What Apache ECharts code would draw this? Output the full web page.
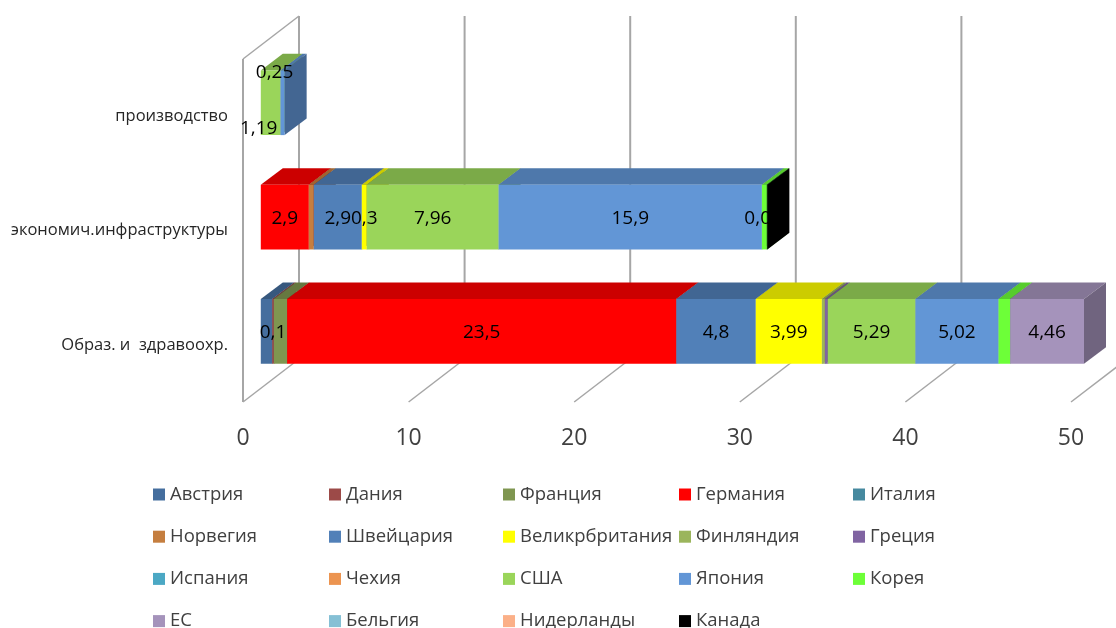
<!DOCTYPE html>
<html>
<head>
<meta charset="utf-8">
<style>html,body{margin:0;background:#fff}#chart{width:1116px;height:628px}</style>
<script src="https://cdn.jsdelivr.net/npm/echarts@6/dist/echarts.min.js"></script>
</head>
<body>
<div id="chart"></div>
<script>
const categories = ['Образ. и  здравоохр.', 'экономич.инфраструктуры', 'производство']
const valueTicks = [0, 10, 20, 30, 40, 50]

const seriesNames = ['Австрия', 'Дания', 'Франция', 'Германия', 'Италия', 'Норвегия', 'Швейцария',
  'Великрбритания', 'Финляндия', 'Греция', 'Испания', 'Чехия', 'США', 'Япония', 'Корея', 'ЕС',
  'Бельгия', 'Нидерланды', 'Канада']

const austria = [0.69, 0, 0]
const denmark = [0.1, 0, 0]
const france = [0.8, 0, 0]
const germany = [23.5, 2.9, 0]
const italy = [0, 0, 0]
const norway = [0, 0.3, 0]
const switzerland = [4.8, 2.9, 0]
const britain = [3.99, 0.3, 0]
const finland = [0.18, 0, 0]
const greece = [0.18, 0, 0]
const spain = [0, 0, 0]
const czech = [0, 0, 0]
const usa = [5.29, 7.96, 1.19]
const japan = [5.02, 15.9, 0.25]
const korea = [0.7, 0.3, 0]
const eu = [4.46, 0, 0]
const belgium = [0, 0, 0]
const netherlands = [0, 0, 0]
const canada = [0, 0.03, 0]

const seriesValues = [austria, denmark, france, germany, italy, norway, switzerland, britain, finland,
  greece, spain, czech, usa, japan, korea, eu, belgium, netherlands, canada]

const COLORS = ['#456e9e', '#9c4a48', '#7f9650', '#ff0000', '#46899f', '#c57e3f', '#5180b8', '#ffff00',
  '#9bb55c', '#8064a2', '#4ba8c4', '#ec9450', '#9ad55a', '#6296d6', '#6dff38', '#a593bb', '#85c0d5',
  '#fbb088', '#000000']

// which points keep a data label, with the hand-dragged shift they have in the picture
const LABEL_SHIFT = {
  'Дания-0': [0, 0], 'Германия-0': [0, 0], 'Швейцария-0': [0, 0], 'Великрбритания-0': [0, 0],
  'США-0': [0, 0], 'Япония-0': [0, 0], 'ЕС-0': [0, 0],
  'Германия-1': [0, 0], 'Швейцария-1': [0, 0], 'Великрбритания-1': [0, 0], 'США-1': [0, 0],
  'Япония-1': [0, 0], 'Канада-1': [-4, 0],
  'США-2': [-12, 24], 'Япония-2': [-8, -32],
}

// 3d look: how far the back wall and the bars sit behind the front plane
const WALL = [56, -43]
const BAR_FRONT = [17.8, -13.4]
const BAR_DEPTH = [22, -16.6]
const BAR_HEIGHT = 64.7

const shade = (hex, k) => {
  const c = echarts.color.parse(hex)
  return `rgb(${c[0] * k},${c[1] * k},${c[2] * k})`
}

const poly = (points, fill) => ({ type: 'polygon', shape: { points }, style: { fill, stroke: null } })

const barSeries = seriesNames.map((name, s) => ({
  name,
  type: 'custom',
  coordinateSystem: 'cartesian2d',
  itemStyle: { color: COLORS[s] },
  data: categories.map((c, i) => [
    seriesValues.slice(0, s).reduce((sum, vals) => sum + vals[i], 0),
    i,
    seriesValues[s][i],
  ]),
  encode: { x: [0, 2], y: 1 },
  renderItem: (params, api) => {
    const val = api.value(2)
    if (!val) return null
    const start = api.coord([api.value(0), api.value(1)])
    const end = api.coord([api.value(0) + val, api.value(1)])
    const x0 = start[0] + BAR_FRONT[0]
    const x1 = end[0] + BAR_FRONT[0]
    const yTop = start[1] + BAR_FRONT[1] - BAR_HEIGHT / 2
    const yBot = yTop + BAR_HEIGHT
    const [dx, dy] = BAR_DEPTH
    const color = COLORS[s]
    const children = [
      poly([[x0, yTop], [x1, yTop], [x1 + dx, yTop + dy], [x0 + dx, yTop + dy]], shade(color, 0.8)),
      poly([[x1, yTop], [x1 + dx, yTop + dy], [x1 + dx, yBot + dy], [x1, yBot]], shade(color, 0.68)),
      poly([[x0, yTop], [x1, yTop], [x1, yBot], [x0, yBot]], color),
    ]
    const shift = LABEL_SHIFT[name + '-' + api.value(1)]
    if (shift) {
      children.push({
        type: 'text',
        z2: 100,
        x: (x0 + x1) / 2 + shift[0],
        y: (yTop + yBot) / 2 + shift[1] + 1.5,
        style: {
          text: String(val).replace('.', ','),
          fill: '#000',
          font: '19px "Open Sans"',
          align: 'center',
          verticalAlign: 'middle',
        },
      })
    }
    return { type: 'group', children }
  },
}))

// walls and floor lines are not something the axis can do in perspective
const wallSeries = {
  type: 'custom',
  coordinateSystem: 'cartesian2d',
  silent: true,
  z: 1,
  data: valueTicks.map(v => [v]),
  encode: { x: 0 },
  renderItem: (params, api) => {
    const v = api.value(0)
    const base = api.coord([v, 0])
    const x = base[0]
    const yBot = params.coordSys.y + params.coordSys.height
    const yTop = params.coordSys.y
    const line = (x1, y1, x2, y2, w) => ({
      type: 'line',
      shape: { x1, y1, x2, y2 },
      style: { stroke: '#a6a6a6', lineWidth: w },
    })
    const children = [
      line(x, yBot, x + WALL[0], yBot + WALL[1], 1.5),
      line(x + WALL[0], yBot + WALL[1], x + WALL[0], yTop + WALL[1], 2),
    ]
    if (v === valueTicks[0]) {
      children.push(line(x, yBot, x, yTop, 2))
      children.push(line(x, yTop, x + WALL[0], yTop + WALL[1], 1.5))
    }
    return { type: 'group', children }
  },
}

const legendFont = { fontFamily: 'Open Sans', fontSize: 18.5, color: '#404040' }
const legendColumns = [153, 329, 503, 679, 853].map((left, col) => ({
  orient: 'vertical',
  left,
  top: 485,
  height: 300,
  icon: 'rect',
  itemWidth: 12,
  itemHeight: 12,
  itemGap: 23.2,
  padding: 0,
  selectedMode: false,
  textStyle: legendFont,
  data: seriesNames.filter((n, i) => i % 5 === col),
}))

const chart = echarts.init(document.getElementById('chart'), null, { renderer: 'canvas' })
chart.setOption({
  animation: false,
  backgroundColor: '#fff',
  legend: legendColumns,
  grid: { left: 243, top: 59, width: 828, height: 343 },
  xAxis: {
    type: 'value',
    min: 0,
    max: 50,
    interval: 10,
    axisLine: { show: false },
    axisTick: { show: false },
    splitLine: { show: false },
    axisLabel: { color: '#404040', fontFamily: 'Open Sans', fontSize: 23, margin: 25 },
  },
  yAxis: {
    type: 'category',
    data: categories,
    axisLine: { show: false },
    axisTick: { show: false },
    axisLabel: { color: '#262626', fontFamily: 'Open Sans', fontSize: 16.5, margin: 15, padding: [4, 0, 0, 0] },
  },
  series: [wallSeries, ...barSeries],
})
</script>
</body>
</html>
